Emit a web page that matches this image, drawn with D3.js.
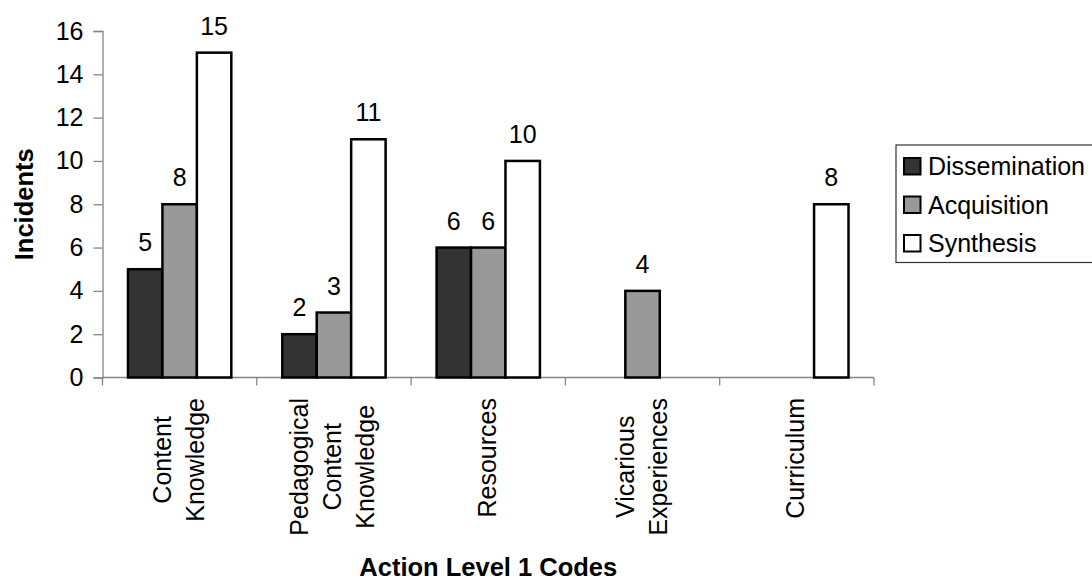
<!DOCTYPE html>
<html>
<head>
<meta charset="utf-8">
<script src="https://cdn.jsdelivr.net/npm/d3@7/dist/d3.min.js"></script>
<style>
  html, body { margin: 0; padding: 0; background: #fff; }
  svg { display: block; font-family: "Liberation Sans", Arial, sans-serif; }
</style>
</head>
<body>
<svg id="chart" width="1092" height="582"></svg>
<script>
// Category labels (each entry is the list of lines shown under the axis)
const categories = ["Content Knowledge", "Pedagogical Content Knowledge", "Resources", "Vicarious Experiences", "Curriculum"];
const categoryLines = [["Content", "Knowledge"], ["Pedagogical", "Content", "Knowledge"], ["Resources"], ["Vicarious", "Experiences"], ["Curriculum"]];

const seriesNames = ["Dissemination", "Acquisition", "Synthesis"];
const dissemination = [5, 2, 6, 0, 0];
const acquisition   = [8, 3, 6, 4, 0];
const synthesis     = [15, 11, 10, 0, 8];
const yTicks = [0, 2, 4, 6, 8, 10, 12, 14, 16];

const seriesValues = [dissemination, acquisition, synthesis];
const seriesFill = ["#333333", "#999999", "#ffffff"];

const svg = d3.select("#chart");
const FONT = 25;
const axisColor = "#858585";

const plot = { left: 102.5, right: 874, top: 31, bottom: 377.5 };

const x0 = d3.scaleBand().domain(categories).range([plot.left, plot.right]).padding(0);
const x1 = d3.scaleBand().domain(seriesNames).range([0, x0.bandwidth()]).paddingInner(0).paddingOuter(0.74);
const y = d3.scaleLinear().domain([0, 16]).range([plot.bottom, plot.top]);
const color = d3.scaleOrdinal().domain(seriesNames).range(seriesFill);

// Flatten series into bar records
const bars = [];
categories.forEach((c, i) => {
  seriesNames.forEach((s, j) => {
    bars.push({ cat: c, series: s, value: seriesValues[j][i] });
  });
});

// Y axis
const yAxis = svg.append("g")
  .attr("transform", `translate(${plot.left},0)`)
  .call(d3.axisLeft(y).tickValues(yTicks).tickSize(9).tickPadding(10).tickFormat(d3.format("d")));
yAxis.select(".domain").attr("stroke", axisColor).attr("stroke-width", 1.3);
yAxis.selectAll(".tick line").attr("stroke", axisColor).attr("stroke-width", 1.3);
yAxis.selectAll(".tick text").attr("font-size", FONT).attr("fill", "#000")
  .attr("font-family", "Liberation Sans, Arial, sans-serif");

// X axis: ticks sit on the band boundaries
const boundaries = categories.map(c => x0(c)).concat([plot.right]);
const xAxisG = svg.append("g").attr("transform", `translate(0,${plot.bottom})`);
xAxisG.append("line")
  .attr("x1", plot.left).attr("x2", plot.right)
  .attr("stroke", axisColor).attr("stroke-width", 1.3);
xAxisG.selectAll("line.tk").data(boundaries).join("line")
  .attr("class", "tk")
  .attr("x1", d => d).attr("x2", d => d)
  .attr("y1", 0).attr("y2", 8)
  .attr("stroke", axisColor).attr("stroke-width", 1.3);

// Bars (zero values draw nothing)
svg.append("g").selectAll("rect").data(bars.filter(d => d.value > 0)).join("rect")
  .attr("x", d => x0(d.cat) + x1(d.series))
  .attr("width", x1.bandwidth())
  .attr("y", d => y(d.value))
  .attr("height", d => y(0) - y(d.value))
  .attr("fill", d => color(d.series))
  .attr("stroke", "#000")
  .attr("stroke-width", 2.5);

// Value labels
svg.append("g").selectAll("text").data(bars.filter(d => d.value > 0)).join("text")
  .attr("x", d => x0(d.cat) + x1(d.series) + x1.bandwidth() / 2)
  .attr("y", d => y(d.value) - 18)
  .attr("text-anchor", "middle")
  .attr("font-size", FONT)
  .attr("fill", "#000")
  .text(d => d.value);

// Rotated category labels, lines centred, longest line starting just below the axis
const labelTop = 398;
const lineGap = 33;
const measure = svg.append("text").attr("font-size", FONT).attr("visibility", "hidden");
categories.forEach((c, i) => {
  const lines = categoryLines[i];
  const maxLen = d3.max(lines, l => { measure.text(l); return measure.node().getComputedTextLength(); });
  const cx = x0(c) + x0.bandwidth() / 2 - 1.5;
  const cy = labelTop + maxLen / 2;
  const g = svg.append("g").attr("transform", `translate(${cx},${cy}) rotate(-90)`);
  lines.forEach((l, k) => {
    g.append("text")
      .attr("x", 0)
      .attr("y", (k - (lines.length - 1) / 2) * lineGap)
      .attr("dy", "0.36em")
      .attr("text-anchor", "middle")
      .attr("font-size", FONT)
      .attr("fill", "#000")
      .text(l);
  });
});
measure.remove();

// Axis titles
svg.append("text")
  .attr("x", (plot.left + plot.right) / 2)
  .attr("y", 576)
  .attr("text-anchor", "middle")
  .attr("font-size", 25.5)
  .attr("font-weight", "bold")
  .attr("fill", "#000")
  .text("Action Level 1 Codes");

svg.append("text")
  .attr("transform", `translate(24,${(plot.top + plot.bottom) / 2}) rotate(-90)`)
  .attr("text-anchor", "middle")
  .attr("dy", "0.36em")
  .attr("font-size", 25.5)
  .attr("font-weight", "bold")
  .attr("fill", "#000")
  .text("Incidents");

// Legend
const legend = svg.append("g");
legend.append("rect")
  .attr("x", 896).attr("y", 145)
  .attr("width", 260).attr("height", 117.5)
  .attr("fill", "#fff")
  .attr("stroke", "#333").attr("stroke-width", 1.2);
seriesNames.forEach((s, i) => {
  const top = 158 + i * 38.5;
  legend.append("rect")
    .attr("x", 904).attr("y", top)
    .attr("width", 16.5).attr("height", 16.5)
    .attr("fill", color(s))
    .attr("stroke", "#000").attr("stroke-width", 2);
  legend.append("text")
    .attr("x", 928).attr("y", top + 17)
    .attr("font-size", FONT)
    .attr("fill", "#000")
    .text(s);
});
</script>
</body>
</html>
